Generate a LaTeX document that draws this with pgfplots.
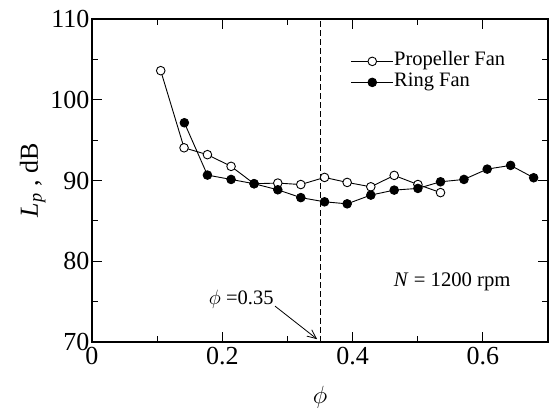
\documentclass[border=0pt]{standalone}
\usepackage{fontspec}
\setmainfont{Liberation Serif}
\usepackage{pgfplots}
\pgfplotsset{compat=1.18}
\usetikzlibrary{arrows.meta}
\begin{document}
\begin{tikzpicture}
\useasboundingbox (-92pt,-69pt) rectangle (458pt,342pt);
\begin{axis}[
  scale only axis,
  width=456pt, height=323pt,
  xmin=0, xmax=0.7, ymin=70, ymax=110,
  xtick={0,0.2,0.4,0.6}, minor xtick={0.1,0.3,0.5,0.7},
  ytick={70,80,90,100,110}, minor ytick={75,85,95,105},
  tick align=inside, tick pos=both,
  major tick length=10pt, minor tick length=6pt,
  axis line style={line width=1.3pt},
  every tick/.style={line width=1pt, black},
  /pgf/number format/assume math mode=true,
  /pgf/number format/fixed,
  ticklabel style={font=\fontsize{26}{28}\selectfont},
  xticklabel style={yshift=-2pt},
  yticklabel style={xshift=1pt},
  xlabel={$\phi$},
  ylabel={\textit{L\textsubscript{p}} , dB},
  label style={font=\fontsize{26}{28}\selectfont},
  xlabel style={yshift=-14pt},
  ylabel style={yshift=-2pt},
  legend style={draw=none, fill=none, at={(rel axis cs:0.565,0.905)}, anchor=north west,
    font=\fontsize{20.5}{20.5}\selectfont, inner sep=1pt,
    nodes={inner sep=0.5pt, text height=14.5pt, text depth=5.5pt}},
  legend cell align=left,
  legend image code/.code={\draw[mark repeat=2,mark phase=2] plot coordinates {(0pt,0pt) (21pt,0pt) (42pt,0pt)};},
]
\addplot[black, line width=0.9pt, mark=*, mark options={fill=white, line width=0.9pt}, mark size=4.3pt] coordinates {
(0.1055,103.6) (0.1413,94.05) (0.1772,93.2) (0.2135,91.75) (0.2488,89.6)
(0.2852,89.68) (0.3205,89.5) (0.357,90.38) (0.3917,89.76) (0.428,89.22)
(0.4639,90.63) (0.5003,89.5) (0.535,88.5)
};
\addlegendentry{Propeller Fan}
\addplot[black, line width=0.9pt, mark=*, mark options={fill=black}, mark size=4.3pt] coordinates {
(0.1418,97.15) (0.1772,90.67) (0.2135,90.13) (0.2488,89.6) (0.2852,88.85)
(0.3205,87.88) (0.357,87.36) (0.3917,87.11) (0.428,88.19) (0.4639,88.81)
(0.5003,89.02) (0.535,89.84) (0.571,90.13) (0.6067,91.41) (0.6426,91.87)
(0.678,90.34)
};
\addlegendentry{Ring Fan}
\draw[black, line width=0.8pt, dash pattern=on 6pt off 3pt] (axis cs:0.35,70) -- (axis cs:0.35,110);
\draw[black, line width=0.8pt, -{Straight Barb[length=9pt,width=8pt]}] (axis cs:0.281,74.44) -- (axis cs:0.3456,70.35);
\node[anchor=east, inner sep=0pt, font=\fontsize{20.5}{20.5}\selectfont] at (axis cs:0.279,75.3) {$\phi$ =0.35};
\node[inner sep=0pt, font=\fontsize{20.7}{20.7}\selectfont] at (axis cs:0.553,77.45) {\textit{N} = 1200 rpm};
\end{axis}
\end{tikzpicture}
\end{document}
